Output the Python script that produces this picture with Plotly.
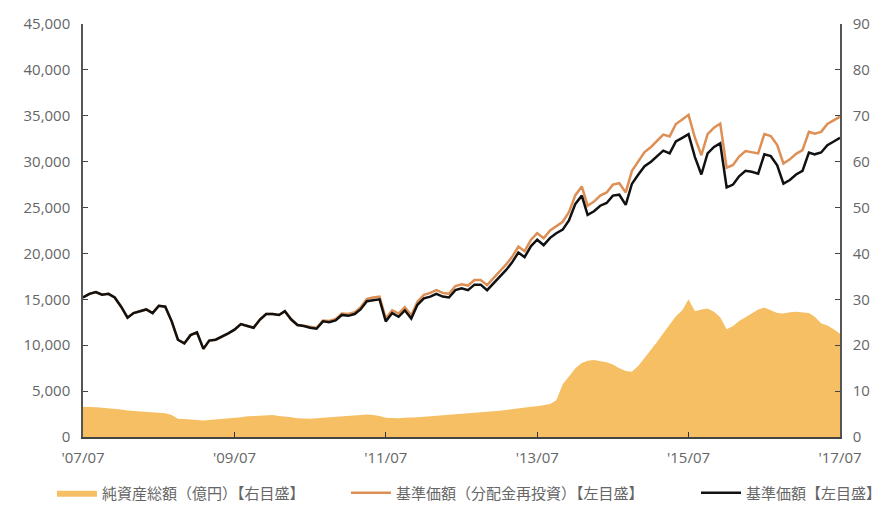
import plotly.graph_objects as go
import pandas as pd

# Monthly dates from 2007/07 to 2017/07
dates = pd.date_range("2007-07-01", "2017-07-01", freq="MS")

# 基準価額 (yen, left axis)
nav = [
    15200, 15600, 15800, 15500, 15600, 15200, 14200, 13000, 13500, 13700,
    13900, 13500, 14300, 14200, 12600, 10600, 10200, 11100, 11400, 9600,
    10500, 10600, 10900, 11300, 11700, 12300, 12100, 11900, 12800, 13400,
    13400, 13300, 13700, 12800, 12200, 12100, 11900, 11800, 12600, 12500,
    12700, 13300, 13200, 13400, 13900, 14800, 14900, 15000, 12600, 13500,
    13100, 13800, 12900, 14400, 15100, 15300, 15600, 15300, 15200, 16000,
    16200, 16000, 16600, 16600, 16000, 16700, 17400, 18200, 19000, 20100,
    19600, 20800, 21500, 20900, 21700, 22200, 22600, 23600, 25400, 26300,
    24200, 24600, 25200, 25500, 26300, 26400, 25300, 27600, 28600, 29500,
    30000, 30600, 31200, 30900, 32200, 32600, 33000, 30500, 28600, 30900,
    31600, 32000, 27200, 27500, 28400, 29000, 28900, 28700, 30800, 30600,
    29600, 27600, 28000, 28600, 29000, 31000, 30800, 31000, 31800, 32200,
    32600,
]

# 基準価額(分配金再投資) (yen, left axis)
nav_reinvested = [
    15200, 15600, 15800, 15500, 15600, 15200, 14200, 13000, 13500, 13700,
    13900, 13500, 14300, 14200, 12600, 10600, 10200, 11100, 11400, 9600,
    10500, 10600, 10900, 11300, 11700, 12300, 12100, 11900, 12800, 13400,
    13400, 13300, 13700, 12800, 12200, 12100, 12000, 11900, 12700, 12650,
    12850, 13450, 13400, 13600, 14100, 15050, 15200, 15300, 12900, 13800,
    13450, 14150, 13250, 14750, 15500, 15700, 16000, 15700, 15600, 16450,
    16650, 16500, 17100, 17100, 16550, 17250, 18000, 18800, 19600, 20750,
    20250, 21500, 22200, 21650, 22500, 23000, 23450, 24500, 26350, 27300,
    25200, 25650, 26300, 26650, 27500, 27650, 26650, 29000, 30050, 31050,
    31600, 32300, 32950, 32750, 34100, 34600, 35100, 32600, 30700, 33000,
    33700, 34150, 29350, 29650, 30550, 31150, 31050, 30900, 33000, 32800,
    31800, 29800, 30250, 30850, 31250, 33250, 33050, 33250, 34100, 34500,
    34900,
]

# 純資産総額(億円) (right axis)
net_assets = [
    6.6, 6.6, 6.5, 6.4, 6.3, 6.2, 6.0, 5.8, 5.7, 5.5,
    5.4, 5.4, 5.3, 5.2, 4.8, 4.0, 3.9, 3.8, 3.7, 3.6,
    3.7, 3.8, 3.9, 4.0, 4.1, 4.3, 4.5, 4.6, 4.7, 4.8,
    4.8, 4.6, 4.5, 4.3, 4.1, 4.0, 4.0, 4.1, 4.2, 4.3,
    4.4, 4.5, 4.6, 4.7, 4.8, 4.9, 4.8, 4.6, 4.2, 4.1,
    4.1, 4.2, 4.2, 4.3, 4.4, 4.5, 4.6, 4.7, 4.8, 4.9,
    5.0, 5.1, 5.2, 5.3, 5.4, 5.5, 5.7, 5.9, 6.1, 6.3,
    6.5, 6.6, 6.7, 6.9, 7.2, 8.0, 11.5, 13.2, 15.0, 16.1,
    16.6, 16.8, 16.5, 16.3, 15.8, 15.0, 14.4, 14.2, 15.5, 17.2,
    19.0, 20.8, 22.6, 24.4, 26.3, 27.6, 30.0, 27.4, 27.8, 28.0,
    27.3, 26.1, 23.5, 24.2, 25.3, 26.1, 27.0, 27.8, 28.2, 27.6,
    27.0, 26.9, 27.2, 27.3, 27.1, 27.0, 26.2, 24.8, 24.3, 23.5,
    22.5,
]

x_tick_vals = ["2007-07-01", "2009-07-01", "2011-07-01", "2013-07-01", "2015-07-01", "2017-07-01"]
x_tick_text = ["'07/07", "'09/07", "'11/07", "'13/07", "'15/07", "'17/07"]

names = ["純資産総額（億円）【右目盛】", "基準価額（分配金再投資）【左目盛】", "基準価額【左目盛】"]

fig = go.Figure()
fig.add_trace(go.Scatter(
    x=dates, y=net_assets, name=names[0], yaxis="y", legend="legend",
    mode="lines", line=dict(width=0, color="#f6bf63"),
    fill="tozeroy", fillcolor="#f6bf63",
))
fig.add_trace(go.Scatter(
    x=dates, y=nav_reinvested, name=names[1], yaxis="y2", legend="legend2",
    mode="lines", line=dict(width=2.5, color="#dd8f55"),
))
fig.add_trace(go.Scatter(
    x=dates, y=nav, name=names[2], yaxis="y2", legend="legend3",
    mode="lines", line=dict(width=2.5, color="#111111"),
))

axis_font = dict(family="Open Sans, Noto Sans CJK JP, sans-serif", size=15, color="#666666")
legend_font = dict(family="Noto Sans CJK JP, sans-serif", size=15, color="#666666")


def legend_at(x):
    return dict(
        orientation="h", x=x, xanchor="left", y=-0.1356, yanchor="middle",
        font=legend_font, itemwidth=40, bgcolor="rgba(0,0,0,0)",
    )


fig.update_layout(
    width=910, height=520,
    margin=dict(l=75, r=78, t=16, b=91),
    paper_bgcolor="white", plot_bgcolor="white",
    showlegend=True,
    legend=legend_at(-0.041),
    legend2=legend_at(0.3474),
    legend3=legend_at(0.8098),
    xaxis=dict(
        range=["2007-07-01", "2017-07-01"], automargin=False,
        tickmode="array", tickvals=x_tick_vals, ticktext=x_tick_text,
        ticks="inside", ticklen=5, tickcolor="#333333",
        showline=True, linecolor="#444444", linewidth=1.5,
        showgrid=False, zeroline=False, tickfont=axis_font,
        ticklabelstandoff=6,
    ),
    yaxis=dict(
        side="right", range=[0, 90], dtick=10, automargin=False,
        ticks="inside", ticklen=5, tickcolor="#444444",
        showline=True, linecolor="#555555", linewidth=1.5,
        showgrid=False, zeroline=False, tickfont=axis_font,
        ticklabelstandoff=8,
    ),
    yaxis2=dict(
        side="left", overlaying="y", range=[0, 45000], dtick=5000, automargin=False,
        tickformat=",",
        ticks="inside", ticklen=5, tickcolor="#444444",
        showline=True, linecolor="#555555", linewidth=1.5,
        showgrid=False, zeroline=False, tickfont=axis_font,
        ticklabelstandoff=8,
    ),
)

fig.write_html("out.html")
